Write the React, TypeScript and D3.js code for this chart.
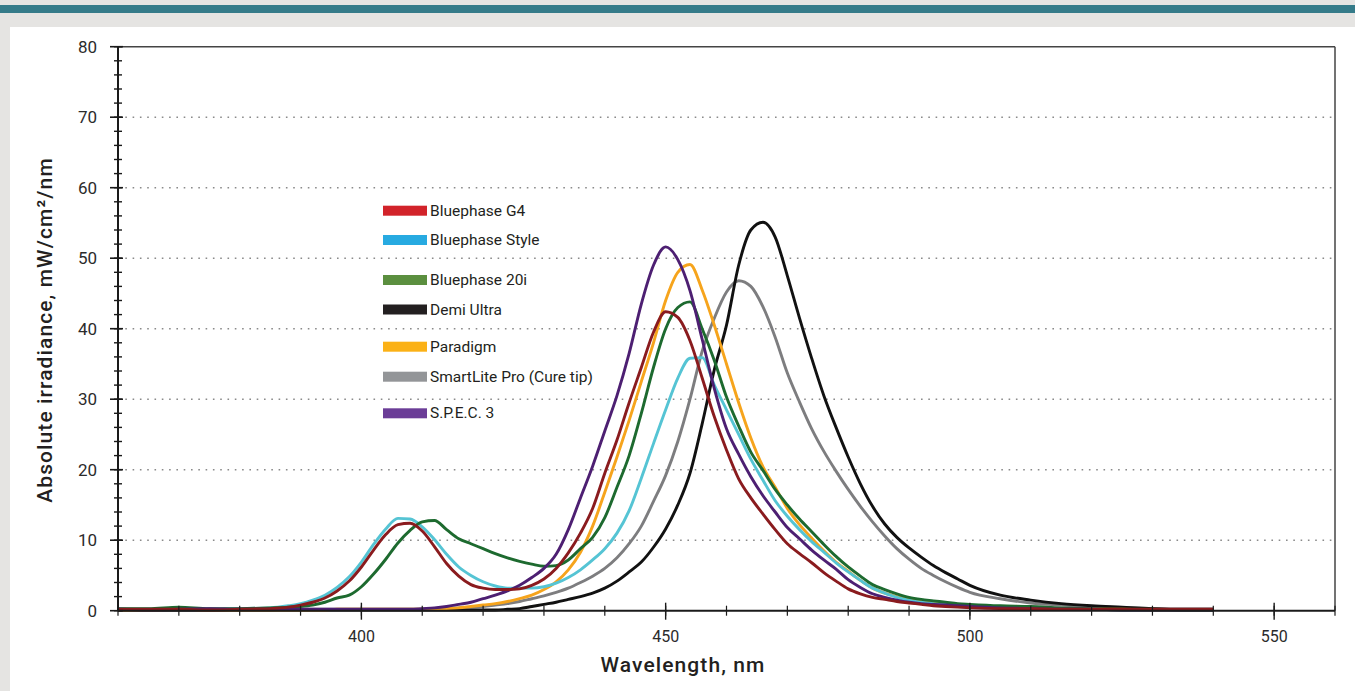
import React from 'react';
import * as d3 from 'd3';

// wavelength grid (nm) shared by all spectra
const wavelengths = [
  360, 365, 370, 375, 380, 385, 388,
  390, 392, 394, 396, 398,
  400, 402, 404, 406, 408,
  410, 412, 414, 416, 418,
  420, 422, 424, 426, 428,
  430, 432, 434, 436, 438,
  440, 442, 444, 446, 448,
  450, 452, 454, 456, 458,
  460, 462, 464, 466, 468,
  470, 472, 474, 476, 478,
  480, 482, 484, 486, 488,
  490, 492, 494, 496, 498,
  500, 505, 510, 515, 520, 525, 530, 535, 540,
];

// absolute irradiance, mW/cm²/nm
const bluephaseG4 = [
  0.2, 0.2, 0.2, 0.1, 0.2, 0.3, 0.5,
  0.8, 1.2, 1.8, 2.8, 4.2,
  6.2, 8.6, 10.8, 12.2, 12.4,
  11.3, 9.1, 6.7, 4.9, 3.7,
  3.2, 3.0, 3.0, 3.1, 3.6,
  4.5, 6.0, 8.2, 11.0, 14.5,
  19.5, 24.2, 29.5, 34.5, 39.5,
  42.4, 41.6, 38.3, 33.0, 27.5,
  22.8, 18.7, 16.0, 13.7, 11.5,
  9.5, 8.1, 6.8, 5.4, 4.2,
  3.1, 2.4, 1.9, 1.6, 1.3,
  1.1, 0.9, 0.7, 0.6, 0.5,
  0.4, 0.3, 0.3, 0.2, 0.2, 0.2, 0.2, 0.2, 0.2,
];

const bluephaseStyle = [
  0.3, 0.2, 0.2, 0.2, 0.3, 0.4, 0.7,
  1.0, 1.5, 2.2, 3.3, 4.8,
  6.9, 9.4, 11.6, 13.1, 13.0,
  11.9, 10.1, 8.0, 6.2, 5.0,
  4.1, 3.5, 3.2, 3.2, 3.2,
  3.4, 3.9, 4.7, 5.8, 7.2,
  8.8, 11.0, 14.2, 18.8, 23.7,
  28.5, 33.0, 35.8, 35.9, 32.0,
  28.5, 25.0, 21.5, 18.5, 15.6,
  13.4, 11.5, 9.8, 8.3, 6.8,
  5.5, 4.3, 3.2, 2.5, 1.9,
  1.5, 1.2, 1.0, 0.9, 0.8,
  0.7, 0.5, 0.3, 0.2, 0.2, 0.1, 0.1, 0.1, 0.1,
];

const bluephase20i = [
  0.3, 0.3, 0.5, 0.3, 0.3, 0.4, 0.5,
  0.6, 0.8, 1.2, 1.8, 2.2,
  3.4, 5.2, 7.3, 9.6, 11.4,
  12.6, 12.8, 11.5, 10.2, 9.5,
  8.8, 8.1, 7.5, 7.0, 6.6,
  6.3, 6.4, 7.2, 8.8, 10.4,
  13.2, 17.5, 22.0, 28.0, 34.5,
  40.0, 43.0, 43.8, 40.0, 35.5,
  30.3, 26.2, 22.5, 19.9, 17.2,
  15.0, 13.0, 11.2, 9.4, 7.7,
  6.2, 4.9, 3.7, 3.0, 2.4,
  1.9, 1.6, 1.4, 1.2, 1.0,
  0.9, 0.7, 0.6, 0.4, 0.3, 0.2, 0.2, 0.1, 0.1,
];

const demiUltra = [
  0.1, 0.1, 0.1, 0.1, 0.1, 0.1, 0.1,
  0.1, 0.1, 0.1, 0.1, 0.1,
  0.1, 0.1, 0.1, 0.1, 0.1,
  0.1, 0.1, 0.1, 0.1, 0.1,
  0.1, 0.1, 0.2, 0.3, 0.6,
  0.9, 1.2, 1.6, 2.0, 2.5,
  3.2, 4.2, 5.5, 6.9, 9.0,
  11.6, 15.0, 19.5, 26.5, 34.2,
  40.5, 49.0, 54.0, 55.1, 53.0,
  47.5, 41.5, 35.8, 30.5, 26.0,
  21.8, 18.0, 14.8, 12.3, 10.4,
  8.9, 7.6, 6.4, 5.4, 4.5,
  3.6, 2.2, 1.5, 1.0, 0.7, 0.5, 0.3, 0.2, 0.2,
];

const paradigm = [
  0.1, 0.1, 0.2, 0.1, 0.1, 0.1, 0.1,
  0.1, 0.1, 0.1, 0.2, 0.2,
  0.2, 0.2, 0.2, 0.2, 0.2,
  0.2, 0.2, 0.3, 0.4, 0.6,
  0.8, 1.0, 1.3, 1.7, 2.2,
  3.0, 4.1, 5.8, 8.3, 12.0,
  16.8, 21.8, 27.0, 32.5, 38.0,
  44.0, 48.0, 49.1, 45.5, 40.5,
  35.0, 29.5, 24.5, 20.4, 17.5,
  14.5, 12.2, 10.3, 8.5, 6.9,
  5.6, 4.3, 3.2, 2.5, 2.0,
  1.6, 1.3, 1.1, 0.9, 0.8,
  0.7, 0.5, 0.4, 0.3, 0.2, 0.2, 0.1, 0.1, 0.1,
];

const smartLitePro = [
  0.1, 0.1, 0.1, 0.1, 0.1, 0.1, 0.2,
  0.2, 0.2, 0.2, 0.2, 0.2,
  0.2, 0.2, 0.2, 0.2, 0.2,
  0.2, 0.3, 0.3, 0.4, 0.5,
  0.6, 0.8, 1.0, 1.3, 1.7,
  2.1, 2.6, 3.2, 4.0, 4.9,
  6.0, 7.5, 9.5, 12.0, 15.5,
  19.2, 24.0, 30.0, 36.8, 41.5,
  45.2, 46.8, 46.0, 43.1, 38.8,
  33.7, 29.6, 25.8, 22.6, 19.8,
  17.2, 14.8, 12.6, 10.6, 8.8,
  7.3, 6.0, 5.0, 4.1, 3.3,
  2.6, 1.7, 1.1, 0.8, 0.6, 0.4, 0.3, 0.2, 0.2,
];

const spec3 = [
  0.2, 0.1, 0.2, 0.3, 0.2, 0.2, 0.2,
  0.2, 0.2, 0.2, 0.2, 0.2,
  0.2, 0.2, 0.2, 0.2, 0.2,
  0.3, 0.4, 0.6, 0.9, 1.2,
  1.7, 2.2, 2.8, 3.6, 4.7,
  6.0, 8.0, 11.5, 16.0, 20.5,
  25.5, 30.5, 36.5, 43.5, 49.0,
  51.6, 49.8, 45.4, 38.5, 31.5,
  25.8, 22.2, 19.0, 16.3, 14.0,
  11.8, 10.2, 8.6, 7.2, 5.9,
  4.4, 3.3, 2.4, 1.9, 1.5,
  1.2, 1.0, 0.9, 0.8, 0.7,
  0.6, 0.4, 0.3, 0.2, 0.2, 0.1, 0.1, 0.1, 0.1,
];

const seriesNames = [
  'Bluephase G4',
  'Bluephase Style',
  'Bluephase 20i',
  'Demi Ultra',
  'Paradigm',
  'SmartLite Pro (Cure tip)',
  'S.P.E.C. 3',
];
const seriesValues = [bluephaseG4, bluephaseStyle, bluephase20i, demiUltra, paradigm, smartLitePro, spec3];
const lineColors = ['#8a1b1e', '#55c4d4', '#1d6a2f', '#111111', '#f6a41c', '#7d7d7f', '#4d1f72'];
const legendColors = ['#d2232a', '#27aae1', '#5b8f3f', '#231f20', '#fbb116', '#939598', '#6b3d97'];
// drawing order, back to front
const drawOrder = [5, 3, 4, 1, 2, 6, 0];

const yTicks = [0, 10, 20, 30, 40, 50, 60, 70, 80];
const xTickLabels = [400, 450, 500, 550];

const W = 1355;
const H = 691;
const plot = { left: 118, right: 1335, top: 46.7, bottom: 610.7 };
const legendRowY = [210.7, 240, 280, 309.5, 346.7, 376.7, 413.3];
const tickFont = "Roboto, 'Liberation Sans', sans-serif";

export default function App() {
  const x = d3.scaleLinear().domain([360, 560]).range([plot.left, plot.right]);
  const y = d3.scaleLinear().domain([0, 80]).range([plot.bottom, plot.top]);

  const line = d3
    .line<number>()
    .x((_, i) => x(wavelengths[i]))
    .y((d) => y(d))
    .curve(d3.curveMonotoneX);

  const xMinor = d3.range(360, 561, 10);
  const yMinor = d3.range(0, 81, 2);

  return (
    <div style={{ position: 'absolute', left: 0, top: 0 }}>
      <svg width={W} height={H} style={{ display: 'block' }}>
        <rect x={0} y={0} width={W} height={H} fill="#e5e4e2" />
        <rect x={0} y={5} width={W} height={8} fill="#357b89" />
        <rect x={10} y={27} width={W - 10} height={H - 27} fill="#ffffff" />

        {/* dotted gridlines */}
        {yTicks.slice(1, -1).map((t) => (
          <line
            key={'g' + t}
            x1={plot.left}
            x2={plot.right}
            y1={y(t)}
            y2={y(t)}
            stroke="#8a8a8a"
            strokeWidth={1.6}
            strokeDasharray="1.6 5.7"
          />
        ))}

        {/* frame */}
        <line x1={plot.left} x2={plot.right} y1={plot.top} y2={plot.top} stroke="#444" strokeWidth={1.5} />
        <line x1={plot.right} x2={plot.right} y1={plot.top} y2={plot.bottom} stroke="#444" strokeWidth={1.5} />

        {/* spectra */}
        {drawOrder.map((k) => (
          <path
            key={seriesNames[k]}
            d={line(seriesValues[k]) || ''}
            fill="none"
            stroke={lineColors[k]}
            strokeWidth={2.9}
            strokeLinejoin="round"
          />
        ))}

        {/* y axis */}
        <line x1={plot.left} x2={plot.left} y1={plot.top} y2={plot.bottom} stroke="#1a1a1a" strokeWidth={2} />
        {yMinor.map((t) => (
          <line key={'ym' + t} x1={plot.left - 4} x2={plot.left + 4} y1={y(t)} y2={y(t)} stroke="#1a1a1a" strokeWidth={1.4} />
        ))}
        {yTicks.map((t) => (
          <g key={'y' + t}>
            <line x1={plot.left - 8} x2={plot.left + 5} y1={y(t)} y2={y(t)} stroke="#1a1a1a" strokeWidth={1.6} />
            <text
              x={97}
              y={y(t)}
              textAnchor="end"
              dominantBaseline="central"
              fontFamily={tickFont}
              fontSize={17}
              fill="#2b2b2b"
            >
              {t}
            </text>
          </g>
        ))}

        {/* x axis */}
        <line x1={plot.left} x2={plot.right} y1={plot.bottom} y2={plot.bottom} stroke="#1a1a1a" strokeWidth={2} />
        {xMinor.map((t) => (
          <line key={'xm' + t} x1={x(t)} x2={x(t)} y1={plot.bottom - 5} y2={plot.bottom + 5} stroke="#1a1a1a" strokeWidth={1.2} />
        ))}
        {xTickLabels.map((t) => (
          <g key={'x' + t}>
            <line x1={x(t)} x2={x(t)} y1={plot.bottom - 8} y2={plot.bottom + 9} stroke="#1a1a1a" strokeWidth={1.4} />
            <text
              x={x(t)}
              y={636}
              textAnchor="middle"
              dominantBaseline="central"
              fontFamily={tickFont}
              fontSize={16}
              fill="#2b2b2b"
            >
              {t}
            </text>
          </g>
        ))}

        {/* axis titles */}
        <text
          x={683}
          y={665}
          textAnchor="middle"
          dominantBaseline="central"
          fontFamily={tickFont}
          fontSize={21}
          fontWeight={500}
          letterSpacing={1.1}
          fill="#231f20"
        >
          Wavelength, nm
        </text>
        <text
          transform="translate(45,330) rotate(-90)"
          textAnchor="middle"
          dominantBaseline="central"
          fontFamily={tickFont}
          fontSize={21}
          fontWeight={500}
          letterSpacing={1.1}
          fill="#231f20"
        >
          Absolute irradiance, mW/cm²/nm
        </text>

        {/* legend */}
        {seriesNames.map((name, i) => (
          <g key={'l' + name}>
            <rect x={383} y={legendRowY[i] - 5} width={44} height={10} fill={legendColors[i]} />
            <text
              x={430}
              y={legendRowY[i]}
              dominantBaseline="central"
              fontFamily={tickFont}
              fontSize={15.5}
              fill="#231f20"
            >
              {name}
            </text>
          </g>
        ))}
      </svg>
    </div>
  );
}
